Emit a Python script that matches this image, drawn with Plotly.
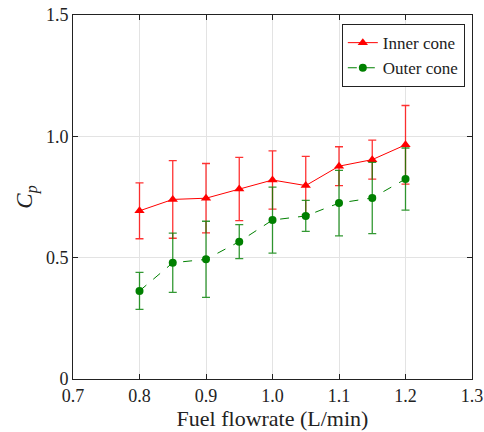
import plotly.graph_objects as go

flow = [0.8, 0.85, 0.9, 0.95, 1.0, 1.05, 1.1, 1.15, 1.2]

inner_cp = [0.693, 0.740, 0.745, 0.783, 0.820, 0.797, 0.877, 0.904, 0.965]
inner_err = [0.115, 0.160, 0.143, 0.130, 0.120, 0.120, 0.080, 0.080, 0.162]

outer_cp = [0.363, 0.479, 0.493, 0.566, 0.655, 0.672, 0.725, 0.746, 0.824]
outer_err = [0.076, 0.122, 0.157, 0.070, 0.136, 0.064, 0.135, 0.147, 0.128]

x_ticks = [0.7, 0.8, 0.9, 1.0, 1.1, 1.2, 1.3]
x_tick_text = ["0.7", "0.8", "0.9", "1.0", "1.1", "1.2", "1.3"]
y_ticks = [0, 0.5, 1.0, 1.5]
y_tick_text = ["0", "0.5", "1.0", "1.5"]

serif = "Liberation Serif"
ink = "#222222"

fig = go.Figure()

fig.add_trace(go.Scatter(
    x=flow, y=inner_cp, name="Inner cone", mode="lines+markers",
    line=dict(color="#ff0000", width=1),
    marker=dict(symbol="triangle-up", size=9, color="#ff0000"),
    error_y=dict(type="data", array=inner_err, visible=True,
                 color="rgba(255,0,0,0.8)", thickness=1.3, width=4),
))

fig.add_trace(go.Scatter(
    x=flow, y=outer_cp, name="Outer cone", mode="lines+markers",
    line=dict(color="#008000", width=1, dash="dash"),
    marker=dict(symbol="circle", size=8, color="#008000"),
    error_y=dict(type="data", array=outer_err, visible=True,
                 color="rgba(0,128,0,0.8)", thickness=1.3, width=4),
))

axis_common = dict(
    showline=True, mirror="ticks", linecolor=ink, linewidth=1,
    ticks="inside", ticklen=5, tickcolor=ink,
    showgrid=True, gridcolor="#e3e3e3", gridwidth=1,
    zeroline=False, automargin=False,
    tickfont=dict(family=serif, size=18, color=ink),
)

fig.update_xaxes(
    range=[0.7, 1.3], tickvals=x_ticks, ticktext=x_tick_text,
    title=dict(text="Fuel flowrate (L/min)", standoff=6,
               font=dict(family=serif, size=22, color=ink)),
    **axis_common,
)
fig.update_yaxes(
    range=[0, 1.5], tickvals=y_ticks, ticktext=y_tick_text,
    title=dict(text="<i>C</i><sub><i>p</i></sub>", standoff=6,
               font=dict(family=serif, size=23, color=ink)),
    **axis_common,
)

fig.update_layout(
    width=484, height=432,
    margin=dict(l=73, r=12, t=15, b=53, autoexpand=False),
    paper_bgcolor="white", plot_bgcolor="white",
    font=dict(family=serif, size=16, color=ink),
    showlegend=True,
    legend=dict(
        x=0.982, y=0.975, xanchor="right", yanchor="top",
        bgcolor="white", bordercolor=ink, borderwidth=1,
        font=dict(family=serif, size=17, color=ink),
        tracegroupgap=0, itemwidth=30,
    ),
)

fig.write_html("out.html")
